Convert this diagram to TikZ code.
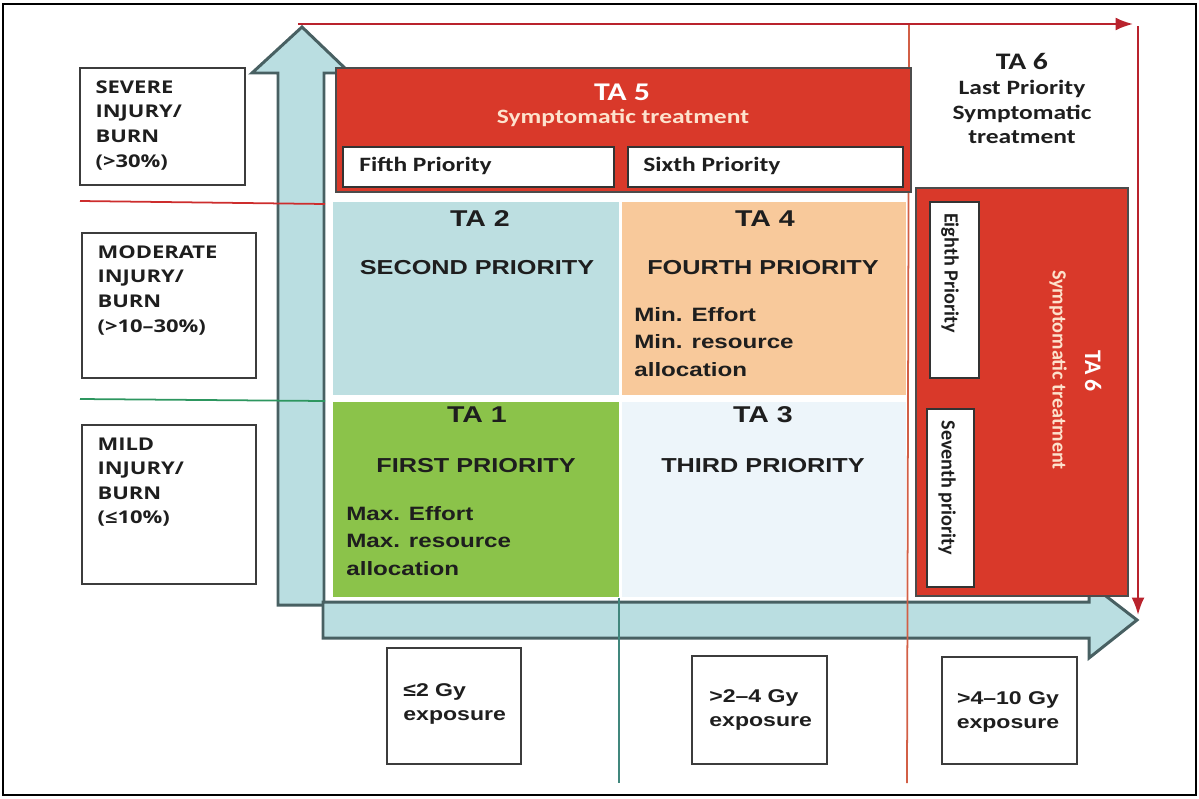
\documentclass[tikz,border=0pt]{standalone}
\usepackage{fontspec}
\usepackage{tikz}
\usetikzlibrary{positioning,arrows.meta,fit,calc}
\newfontfamily\arialfam{Liberation Sans}[FakeStretch=1.25]
\newfontfamily\opensfam{Open Sans}[FakeStretch=1.25]
\newfontfamily\califam{Carlito}[FakeStretch=1.25]
\newfontfamily\caliup{Carlito}
\definecolor{axisfill}{RGB}{186,222,225}
\definecolor{axisline}{RGB}{72,96,98}
\definecolor{tared}{RGB}{217,57,42}
\definecolor{peachtxt}{RGB}{253,226,205}
\definecolor{celltwo}{RGB}{189,223,225}
\definecolor{cellfour}{RGB}{248,201,155}
\definecolor{cellone}{RGB}{139,195,74}
\definecolor{cellthree}{RGB}{237,245,250}
\definecolor{arrred}{RGB}{185,35,45}
\definecolor{sevline}{RGB}{205,45,45}
\definecolor{modline}{RGB}{45,150,95}
\definecolor{gyline}{RGB}{210,95,70}
\definecolor{lowline}{RGB}{65,135,125}
\definecolor{ink}{RGB}{30,30,30}
\definecolor{boxline}{RGB}{60,60,60}
\newcommand{\fsz}[2]{\fontsize{#1}{#2}\selectfont}
\tikzset{
    axisarrow/.style={draw=axisline,fill=axisfill,line width=1.7pt,line join=miter},
    cell/.style={rectangle,inner sep=0pt,draw=none},
    sidebox/.style={rectangle,draw=boxline,line width=0.9pt,fill=white,inner sep=0pt},
    redbox/.style={rectangle,draw=black!70,line width=0.7pt,fill=tared,inner sep=0pt},
    priobox/.style={rectangle,draw=black!80,line width=0.9pt,fill=white,inner sep=0pt},
    sidetxt/.style={inner sep=0pt,align=left,text=ink,font=\opensfam\bfseries\fsz{10}{14}},
    gytxt/.style={inner sep=0pt,text=ink,font=\arialfam\bfseries\fsz{10.5}{13.6}},
    tatitle/.style={inner sep=0pt,text=ink,font=\arialfam\bfseries\fsz{13}{15}},
    prio/.style={inner sep=0pt,text=ink,font=\arialfam\bfseries\fsz{11.5}{14}},
    effort/.style={inner sep=0pt,align=left,text=ink,font=\arialfam\bfseries\fsz{11}{15.6}},
    redtitle/.style={inner sep=0pt,text=white,font=\califam\bfseries\fsz{14.5}{16}},
    redsub/.style={inner sep=0pt,text=peachtxt,font=\califam\bfseries\fsz{11.6}{14}},
    priotxt/.style={inner sep=0pt,text=ink,font=\califam\bfseries\fsz{11.6}{14}},
    vprio/.style={inner sep=0pt,text=ink,rotate=-90,font=\caliup\bfseries\fsz{11.5}{14}},
    guide/.style={line width=1pt},
    redarr/.style={draw=arrred,line width=1.2pt,-{Latex[length=3.5mm,width=2.6mm]}},
}

\begin{document}
\begin{tikzpicture}[x=0.02cm,y=-0.02cm]
\useasboundingbox (0,0) rectangle (1199,798);
\draw[line width=1.3pt] (3,4) rectangle (1196,795);

% axes
\draw[axisarrow] (278,605) -- (278,73) -- (252,73) -- (302,27) -- (350,73) -- (324,73) -- (324,605) -- cycle;
\draw[axisarrow] (323,602) -- (1089,602) -- (1089,583) -- (1137,620) -- (1089,658) -- (1089,638) -- (323,638) -- cycle;

% matrix
\node[cell,fill=celltwo,fit={(333,202) (619,395)}]   (ta2) {};
\node[cell,fill=cellfour,fit={(622,202) (906,395)}]  (ta4) {};
\node[cell,fill=cellone,fit={(333,402) (619,597)}]   (ta1) {};
\node[cell,fill=cellthree,fit={(622,402) (906,597)}] (ta3) {};

\node[tatitle] (ta2t) at (480,219) {TA 2};
\node[prio]    (ta2p) at (477,268) {SECOND PRIORITY};
\node[tatitle] (ta4t) at (765,219) {TA 4};
\node[prio]    (ta4p) at (763,268) {FOURTH PRIORITY};
\node[effort,anchor=west] (ta4e) at (634,342) {Min. Effort\\Min. resource\\allocation};
\node[tatitle] (ta1t) at (477,415) {TA 1};
\node[prio]    (ta1p) at (476,466) {FIRST PRIORITY};
\node[effort,anchor=west] (ta1e) at (346,541) {Max. Effort\\Max. resource\\allocation};
\node[tatitle] (ta3t) at (763,415) {TA 3};
\node[prio]    (ta3p) at (763,466) {THIRD PRIORITY};

% guide lines
\coordinate (sevL) at (80,201);  \coordinate (sevR) at (325,204);
\coordinate (modL) at (80,399);  \coordinate (modR) at (325,401);
\coordinate (lowT) at (619,598); \coordinate (lowB) at (619,783);
\coordinate (gyT)  at (909,24);  \coordinate (gyB)  at (907,783);
\draw[guide,sevline] (sevL) -- (sevR);
\draw[guide,modline] (modL) -- (modR);
\draw[guide,lowline] (lowT) -- (lowB);
\draw[guide,gyline]  (gyT) -- (gyB);

% TA 5
\node[redbox,fit={(336,68) (911,192)}] (ta5) {};
\node[redtitle] (ta5t) at (622,92) {TA 5};
\node[redsub]   (ta5s) at (623,118) {Symptomatic treatment};
\node[priobox,fit={(343,147) (614,187)}] (fifth) {};
\node[priobox,fit={(628,147) (903,187)}] (sixth) {};
\node[priotxt,anchor=west] (fifthtxt) at (359,166) {Fifth Priority};
\node[priotxt,anchor=west] (sixthtxt) at (643,166) {Sixth Priority};

% TA 6
\node[priotxt,font=\califam\bfseries\fsz{13.5}{16}] (ta6t) at (1022,61) {TA 6};
\node[priotxt,align=center,font=\califam\bfseries\fsz{11.6}{13.9}] (ta6s) at (1022,112) {Last Priority\\Symptomatic\\treatment};
\node[redbox,fit={(916,188) (1128,596)}] (ta6) {};
\node[priobox,fit={(930,202) (979,378)}] (eighth) {};
\node[priobox,fit={(927,409) (974,587)}] (seventh) {};
\node[vprio] (eighthtxt)  at (950,273) {Eighth Priority};
\node[vprio] (seventhtxt) at (947,488) {Seventh priority};
\node[vprio,text=white,font=\caliup\bfseries\fsz{13.5}{16}] (ta6vt) at (1093,371) {TA 6};
\node[vprio,text=peachtxt] (ta6vs) at (1058,370) {Symptomatic treatment};

% injury boxes
\node[sidebox,fit={(80,68) (245,185)}]  (severe)   {};
\node[sidebox,fit={(82,233) (256,378)}] (moderate) {};
\node[sidebox,fit={(82,425) (256,584)}] (mild)     {};
\node[sidetxt,anchor=north west] (severetxt)   at ([shift={(16,13)}]severe.north west)   {SEVERE\\INJURY/\\BURN\\(>30\%)};
\node[sidetxt,anchor=north west] (moderatetxt) at ([shift={(16,13)}]moderate.north west) {MODERATE\\INJURY/\\BURN\\(>10–30\%)};
\node[sidetxt,anchor=north west] (mildtxt)     at ([shift={(16,13)}]mild.north west)     {MILD\\INJURY/\\BURN\\(≤10\%)};

% dose boxes
\node[sidebox,fit={(387,648) (521,764)}]  (gylow)  {};
\node[sidebox,fit={(692,656) (827,764)}]  (gymid)  {};
\node[sidebox,fit={(942,657) (1077,764)}] (gyhigh) {};
\node[gytxt,align=left,anchor=west] (gylowtxt) at (403,704) {≤2 Gy\\exposure};
\node[gytxt,align=left,anchor=west] (gymidtxt) at (709,710) {>2–4 Gy\\exposure};
\node[gytxt,align=center] (gyhightxt) at (1008,712) {>4–10 Gy\\exposure};

% priority arrows
\coordinate (topL)  at (298,24);  \coordinate (topR)  at (1133,24);
\coordinate (sideT) at (1138,26); \coordinate (sideB) at (1138,615);
\draw[redarr] (topL) -- (topR);
\draw[redarr] (sideT) -- (sideB);
\end{tikzpicture}
\end{document}
